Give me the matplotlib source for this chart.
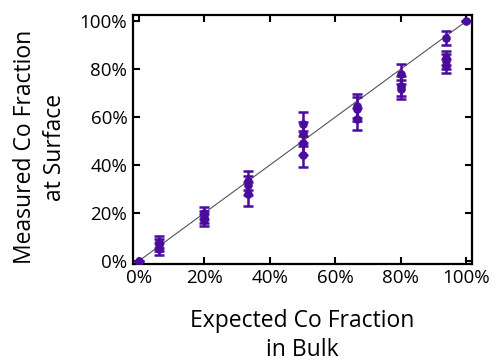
import numpy as np
import matplotlib
matplotlib.use("Agg")
import matplotlib.pyplot as plt
from matplotlib.ticker import PercentFormatter

plt.rcParams['font.family'] = ['Open Sans', 'DejaVu Sans']

# expected bulk fraction, measured surface fraction, error bar half-width
expected = [0.0, 0.0625, 0.0625, 0.0625, 0.2, 0.2, 0.2,
            1/3, 1/3, 1/3, 0.5, 0.5, 0.5, 0.5,
            2/3, 2/3, 2/3, 0.8, 0.8, 0.8,
            0.9375, 0.9375, 0.9375, 0.9375, 1.0]
measured = [0.0, 0.08, 0.065, 0.05, 0.20, 0.185, 0.17,
            0.335, 0.315, 0.28, 0.573, 0.531, 0.49, 0.444,
            0.647, 0.635, 0.593, 0.78, 0.73, 0.716,
            0.93, 0.846, 0.832, 0.813, 1.0]
errors = [0.0, 0.025, 0.025, 0.025, 0.025, 0.025, 0.025,
          0.04, 0.04, 0.05, 0.05, 0.05, 0.05, 0.05,
          0.05, 0.05, 0.045, 0.04, 0.04, 0.04,
          0.03, 0.03, 0.03, 0.03, 0.0]
ticks = [0, 0.2, 0.4, 0.6, 0.8, 1.0]

purple = '#4b0c9c'

fig = plt.figure(figsize=(4.96, 3.61), dpi=100)
ax = fig.add_axes([0.268, 0.269, 0.684, 0.689])

ax.plot([0, 1], [0, 1], color='#555555', lw=0.8, zorder=1)
ax.errorbar(expected, measured, yerr=errors, fmt='o', color=purple,
            ms=5.2, elinewidth=1.8, capsize=3.5, capthick=1.8, zorder=3)

ax.set_xlim(-0.018, 1.018)
ax.set_ylim(-0.012, 1.025)
ax.set_xticks(ticks)
ax.set_yticks(ticks)
ax.xaxis.set_major_formatter(PercentFormatter(1.0, decimals=0))
ax.yaxis.set_major_formatter(PercentFormatter(1.0, decimals=0))
ax.tick_params(direction='in', length=5, width=1.5, top=True, right=True,
               labelsize=13.5, pad=4)
for s in ax.spines.values():
    s.set_linewidth(1.6)

ax.set_xlabel('Expected Co Fraction\nin Bulk', fontsize=16.5, linespacing=1.3)
ax.set_ylabel('Measured Co Fraction\nat Surface', fontsize=16.5, linespacing=1.3)
ax.xaxis.set_label_coords(0.5, -0.18)
ax.yaxis.set_label_coords(-0.195, 0.47)

fig.savefig('out.png', dpi=100)
